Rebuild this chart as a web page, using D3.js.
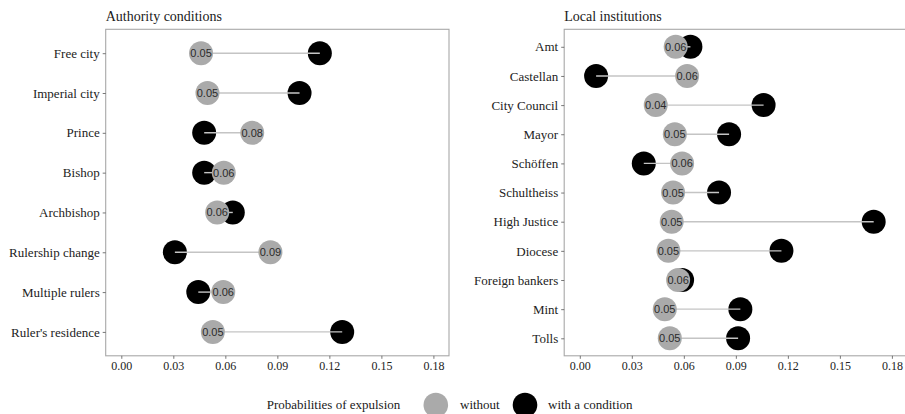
<!DOCTYPE html>
<html>
<head>
<meta charset="utf-8">
<script src="https://cdn.jsdelivr.net/npm/d3@7/dist/d3.min.js"></script>
<style>
  html, body { margin: 0; padding: 0; background: #fff; }
  svg { display: block; }
</style>
</head>
<body>
<svg id="chart" width="905" height="414"></svg>
<script>
// Panel 1: authority conditions
const authorityCategories = ["Free city", "Imperial city", "Prince", "Bishop", "Archbishop",
  "Rulership change", "Multiple rulers", "Ruler's residence"];
const authorityWithout = [0.046, 0.0497, 0.0755, 0.0591, 0.0553, 0.086, 0.0588, 0.0528];
const authorityWith    = [0.1145, 0.1028, 0.0478, 0.0478, 0.0643, 0.0309, 0.0444, 0.1274];

// Panel 2: local institutions
const localCategories = ["Amt", "Castellan", "City Council", "Mayor", "Schöffen", "Schultheiss",
  "High Justice", "Diocese", "Foreign bankers", "Mint", "Tolls"];
const localWithout = [0.0553, 0.0619, 0.0438, 0.0548, 0.059, 0.0538, 0.053, 0.0511, 0.0567, 0.049, 0.0519];
const localWith    = [0.0638, 0.0094, 0.106, 0.0861, 0.0369, 0.0803, 0.1695, 0.1163, 0.059, 0.0926, 0.0913];

const xTicks = [0, 0.03, 0.06, 0.09, 0.12, 0.15, 0.18];
const xLimits = [0, 0.18];

const svg = d3.select("#chart");
const serif = "'Liberation Serif', 'Times New Roman', serif";
const sans = "'Liberation Sans', Arial, sans-serif";
const fmt = d3.format(".2f");

const panelTop = 29.3, panelBottom = 355.8, panelWidth = 343.3;
const colGrey = "#aaaaaa", colBlack = "#000000", colSeg = "#c4c4c4", colBorder = "#a8a8a8";
const r = 12;

function drawPanel(left, title, cats, without, withC) {
  const pad = (xLimits[1] - xLimits[0]) * 0.05;
  const x = d3.scaleLinear().domain([xLimits[0] - pad, xLimits[1] + pad]).range([left, left + panelWidth]);
  const y = d3.scalePoint().domain(cats).range([panelTop, panelBottom]).padding(0.6);
  const rows = cats.map((c, i) => ({ c, w: without[i], b: withC[i] }));

  const g = svg.append("g");

  // panel frame
  g.append("rect")
    .attr("x", left).attr("y", panelTop)
    .attr("width", panelWidth).attr("height", panelBottom - panelTop)
    .attr("fill", "none").attr("stroke", colBorder).attr("stroke-width", 1.1);

  // title
  g.append("text").attr("x", left).attr("y", 21)
    .attr("font-family", serif).attr("font-size", 14).attr("fill", "#1a1a1a")
    .text(title);

  // axes
  const xAxis = d3.axisBottom(x).tickValues(xTicks).tickFormat(fmt).tickSize(3).tickPadding(3);
  const ax = g.append("g").attr("transform", `translate(0,${panelBottom})`).call(xAxis);
  ax.select(".domain").remove();
  ax.selectAll("line").attr("stroke", "#555").attr("stroke-width", 0.8);
  ax.selectAll("text").attr("font-family", serif).attr("font-size", 12).attr("fill", "#222");

  const yAxis = d3.axisLeft(y).tickSize(3).tickPadding(3);
  const ay = g.append("g").attr("transform", `translate(${left},0)`).call(yAxis);
  ay.select(".domain").remove();
  ay.selectAll("line").attr("stroke", "#555").attr("stroke-width", 0.8);
  ay.selectAll("text").attr("font-family", serif).attr("font-size", 13).attr("fill", "#222");

  // marks: with-condition dots, connecting segment, without dots, labels
  g.selectAll(".dot-with").data(rows).join("circle")
    .attr("cx", d => x(d.b)).attr("cy", d => y(d.c)).attr("r", r).attr("fill", colBlack);
  g.selectAll(".seg").data(rows).join("line")
    .attr("x1", d => x(d.w)).attr("x2", d => x(d.b))
    .attr("y1", d => y(d.c)).attr("y2", d => y(d.c))
    .attr("stroke", colSeg).attr("stroke-width", 1.4);
  g.selectAll(".dot-without").data(rows).join("circle")
    .attr("cx", d => x(d.w)).attr("cy", d => y(d.c)).attr("r", r).attr("fill", colGrey);
  g.selectAll(".lab").data(rows).join("text")
    .attr("x", d => x(d.w)).attr("y", d => y(d.c)).attr("dy", "0.36em")
    .attr("text-anchor", "middle")
    .attr("font-family", sans).attr("font-size", 11).attr("fill", "#2b2b2b")
    .text(d => fmt(d.w));
}

drawPanel(105.7, "Authority conditions", authorityCategories, authorityWithout, authorityWith);
drawPanel(564.2, "Local institutions", localCategories, localWithout, localWith);

// legend
const legY = 405;
const leg = svg.append("g").attr("font-family", serif).attr("font-size", 13).attr("fill", "#1a1a1a");
leg.append("text").attr("x", 266.7).attr("y", legY).attr("dy", "0.33em").text("Probabilities of expulsion");
leg.append("circle").attr("cx", 435.8).attr("cy", legY).attr("r", 12.3).attr("fill", colGrey);
leg.append("text").attr("x", 460).attr("y", legY).attr("dy", "0.33em").text("without");
leg.append("circle").attr("cx", 525).attr("cy", legY).attr("r", 12.3).attr("fill", colBlack);
leg.append("text").attr("x", 548).attr("y", legY).attr("dy", "0.33em").text("with a condition");
</script>
</body>
</html>
